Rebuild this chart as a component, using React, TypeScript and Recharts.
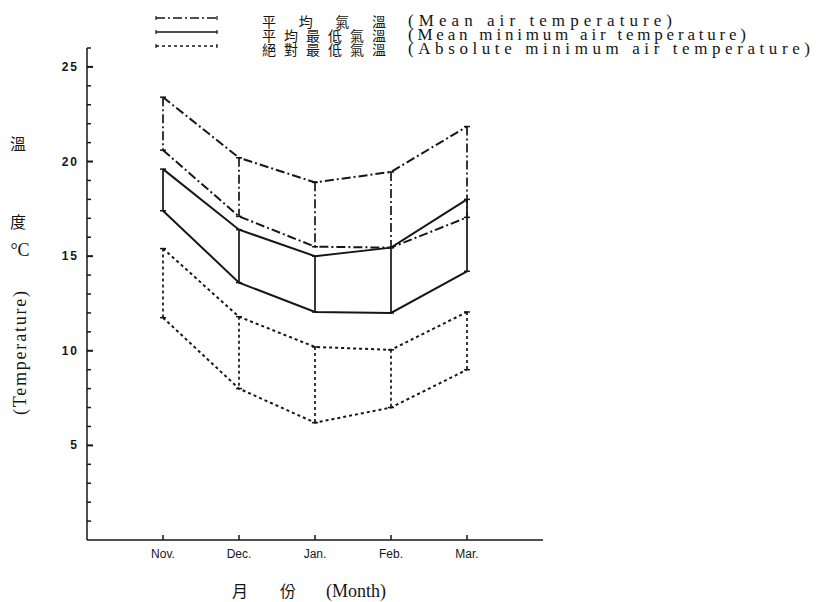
import React from 'react';
import { ComposedChart, Line, XAxis, YAxis } from 'recharts';

const months = ['Nov.', 'Dec.', 'Jan.', 'Feb.', 'Mar.'];
const meanHigh = [23.4, 20.2, 18.9, 19.45, 21.85];
const meanLow = [20.6, 17.1, 15.5, 15.45, 17.05];
const minHigh = [19.6, 16.4, 15.0, 15.45, 18.0];
const minLow = [17.4, 13.6, 12.05, 12.0, 14.2];
const absHigh = [15.4, 11.8, 10.2, 10.05, 12.05];
const absLow = [11.75, 8.0, 6.2, 7.0, 9.0];
const yTicks = Array.from({ length: 26 }, (_, i) => i + 1);
const yLabels = [5, 10, 15, 20, 25];

const INK = '#161616';
const DASHDOT = '9 3 2 3';
const DOTTED = '3 3';

const data = months.map((m, i) => ({
  x: i,
  meanHigh: meanHigh[i],
  meanLow: meanLow[i],
  minHigh: minHigh[i],
  minLow: minLow[i],
  absHigh: absHigh[i],
  absLow: absLow[i],
}));

const groups = [
  { name: 'mean', high: meanHigh, low: meanLow, dash: DASHDOT },
  { name: 'min', high: minHigh, low: minLow, dash: undefined },
  { name: 'abs', high: absHigh, low: absLow, dash: DOTTED },
];

const cap = (props: any) => {
  const { cx, cy, index } = props;
  return <line key={'c' + index} x1={cx - 3} x2={cx + 3} y1={cy} y2={cy} stroke={INK} strokeWidth={1.5} />;
};

const YTick = (props: any) => {
  const { x, y, payload } = props;
  const major = yLabels.includes(payload.value);
  return (
    <g>
      <line x1={x} x2={x + (major ? 6 : 4)} y1={y} y2={y} stroke={INK} strokeWidth={major ? 2 : 1.5} />
      {major && (
        <text x={x - 8} y={y + 4} textAnchor="end" fontFamily="Liberation Sans, Arial, sans-serif" fontWeight="bold" fontSize={12} letterSpacing={2} fill={INK}>
          {payload.value}
        </text>
      )}
    </g>
  );
};

const XTick = (props: any) => {
  const { x, y, payload } = props;
  return (
    <g>
      <line x1={x} x2={x} y1={y} y2={y - 5} stroke={INK} strokeWidth={1.5} />
      <text x={x} y={y + 18} textAnchor="middle" fontFamily="Liberation Sans, Arial, sans-serif" fontSize={12} fill={INK}>
        {months[payload.value]}
      </text>
    </g>
  );
};

const serif = 'Liberation Serif, Times New Roman, serif';
const cjk = 'Noto Sans CJK TC, Noto Sans CJK SC, sans-serif';

const legendRows = [
  { zh: '平 均 氣 溫', en: '(Mean air temperature)', enLen: 264, dash: DASHDOT },
  { zh: '平均最低氣溫', en: '(Mean minimum air temperature)', enLen: 338, dash: undefined },
  { zh: '絕對最低氣溫', en: '(Absolute minimum air temperature)', enLen: 402, dash: DOTTED },
];

const Overlay = () => (
  <svg width={817} height={602} style={{ position: 'absolute', left: 0, top: 0, pointerEvents: 'none' }}>
    {legendRows.map((r, i) => {
      const y = 18 + i * 14;
      return (
        <g key={i}>
          <line x1={156} x2={217} y1={y} y2={y} stroke={INK} strokeWidth={1.5} strokeDasharray={r.dash} />
          <line x1={156} x2={156} y1={y - 2} y2={y + 2} stroke={INK} strokeWidth={1.2} />
          <line x1={217} x2={217} y1={y - 2} y2={y + 2} stroke={INK} strokeWidth={1.2} />
          <text x={262} y={y + 9} fontFamily={cjk} fontSize={14} textLength={124} lengthAdjust="spacing" fill={INK}>
            {r.zh}
          </text>
          <text x={408} y={y + 8} fontFamily={serif} fontSize={17} textLength={r.enLen} lengthAdjust="spacing" fill={INK}>
            {r.en}
          </text>
        </g>
      );
    })}
    <text x={18} y={150} textAnchor="middle" fontFamily={cjk} fontSize={16} fill={INK}>溫</text>
    <text x={18} y={228} textAnchor="middle" fontFamily={cjk} fontSize={16} fill={INK}>度</text>
    <text x={20} y={256} textAnchor="middle" fontFamily={serif} fontSize={18} fill={INK}>°C</text>
    <text x={26} y={353} transform="rotate(-90 26 353)" textAnchor="middle" fontFamily={serif} fontSize={18} textLength={124} lengthAdjust="spacing" fill={INK}>
      (Temperature)
    </text>
    <text x={240} y={597} textAnchor="middle" fontFamily={cjk} fontSize={16} fill={INK}>月</text>
    <text x={288} y={597} textAnchor="middle" fontFamily={cjk} fontSize={16} fill={INK}>份</text>
    <text x={326} y={597} fontFamily={serif} fontSize={18} fill={INK}>(Month)</text>
  </svg>
);

export default function App() {
  return (
    <div style={{ position: 'absolute', left: 0, top: 0, width: 817, height: 602, background: '#fff' }}>
      <ComposedChart width={817} height={602} data={data} margin={{ top: 48, right: 274, left: 47, bottom: 32 }}>
        <XAxis
          type="number"
          dataKey="x"
          domain={[-1, 5]}
          ticks={[0, 1, 2, 3, 4]}
          interval={0}
          height={30}
          tickSize={0}
          tickMargin={0}
          tick={<XTick />}
          axisLine={{ stroke: INK, strokeWidth: 1.5 }}
          allowDataOverflow
        />
        <YAxis
          type="number"
          domain={[0, 26]}
          ticks={yTicks}
          interval={0}
          width={40}
          tickSize={0}
          tickMargin={0}
          tick={<YTick />}
          axisLine={{ stroke: INK, strokeWidth: 1.5 }}
          allowDataOverflow
        />
        {groups.map((g) => (
          <React.Fragment key={g.name}>
            <Line dataKey={g.name + 'High'} type="linear" stroke={INK} strokeWidth={2} strokeDasharray={g.dash} dot={false} isAnimationActive={false} />
            <Line dataKey={g.name + 'Low'} type="linear" stroke={INK} strokeWidth={2} strokeDasharray={g.dash} dot={false} isAnimationActive={false} />
            {months.map((m, i) => (
              <Line
                key={g.name + i}
                data={[
                  { x: i, v: g.high[i] },
                  { x: i, v: g.low[i] },
                ]}
                dataKey="v"
                type="linear"
                stroke={INK}
                strokeWidth={1.7}
                strokeDasharray={g.dash}
                dot={cap}
                isAnimationActive={false}
              />
            ))}
          </React.Fragment>
        ))}
      </ComposedChart>
      <Overlay />
    </div>
  );
}
